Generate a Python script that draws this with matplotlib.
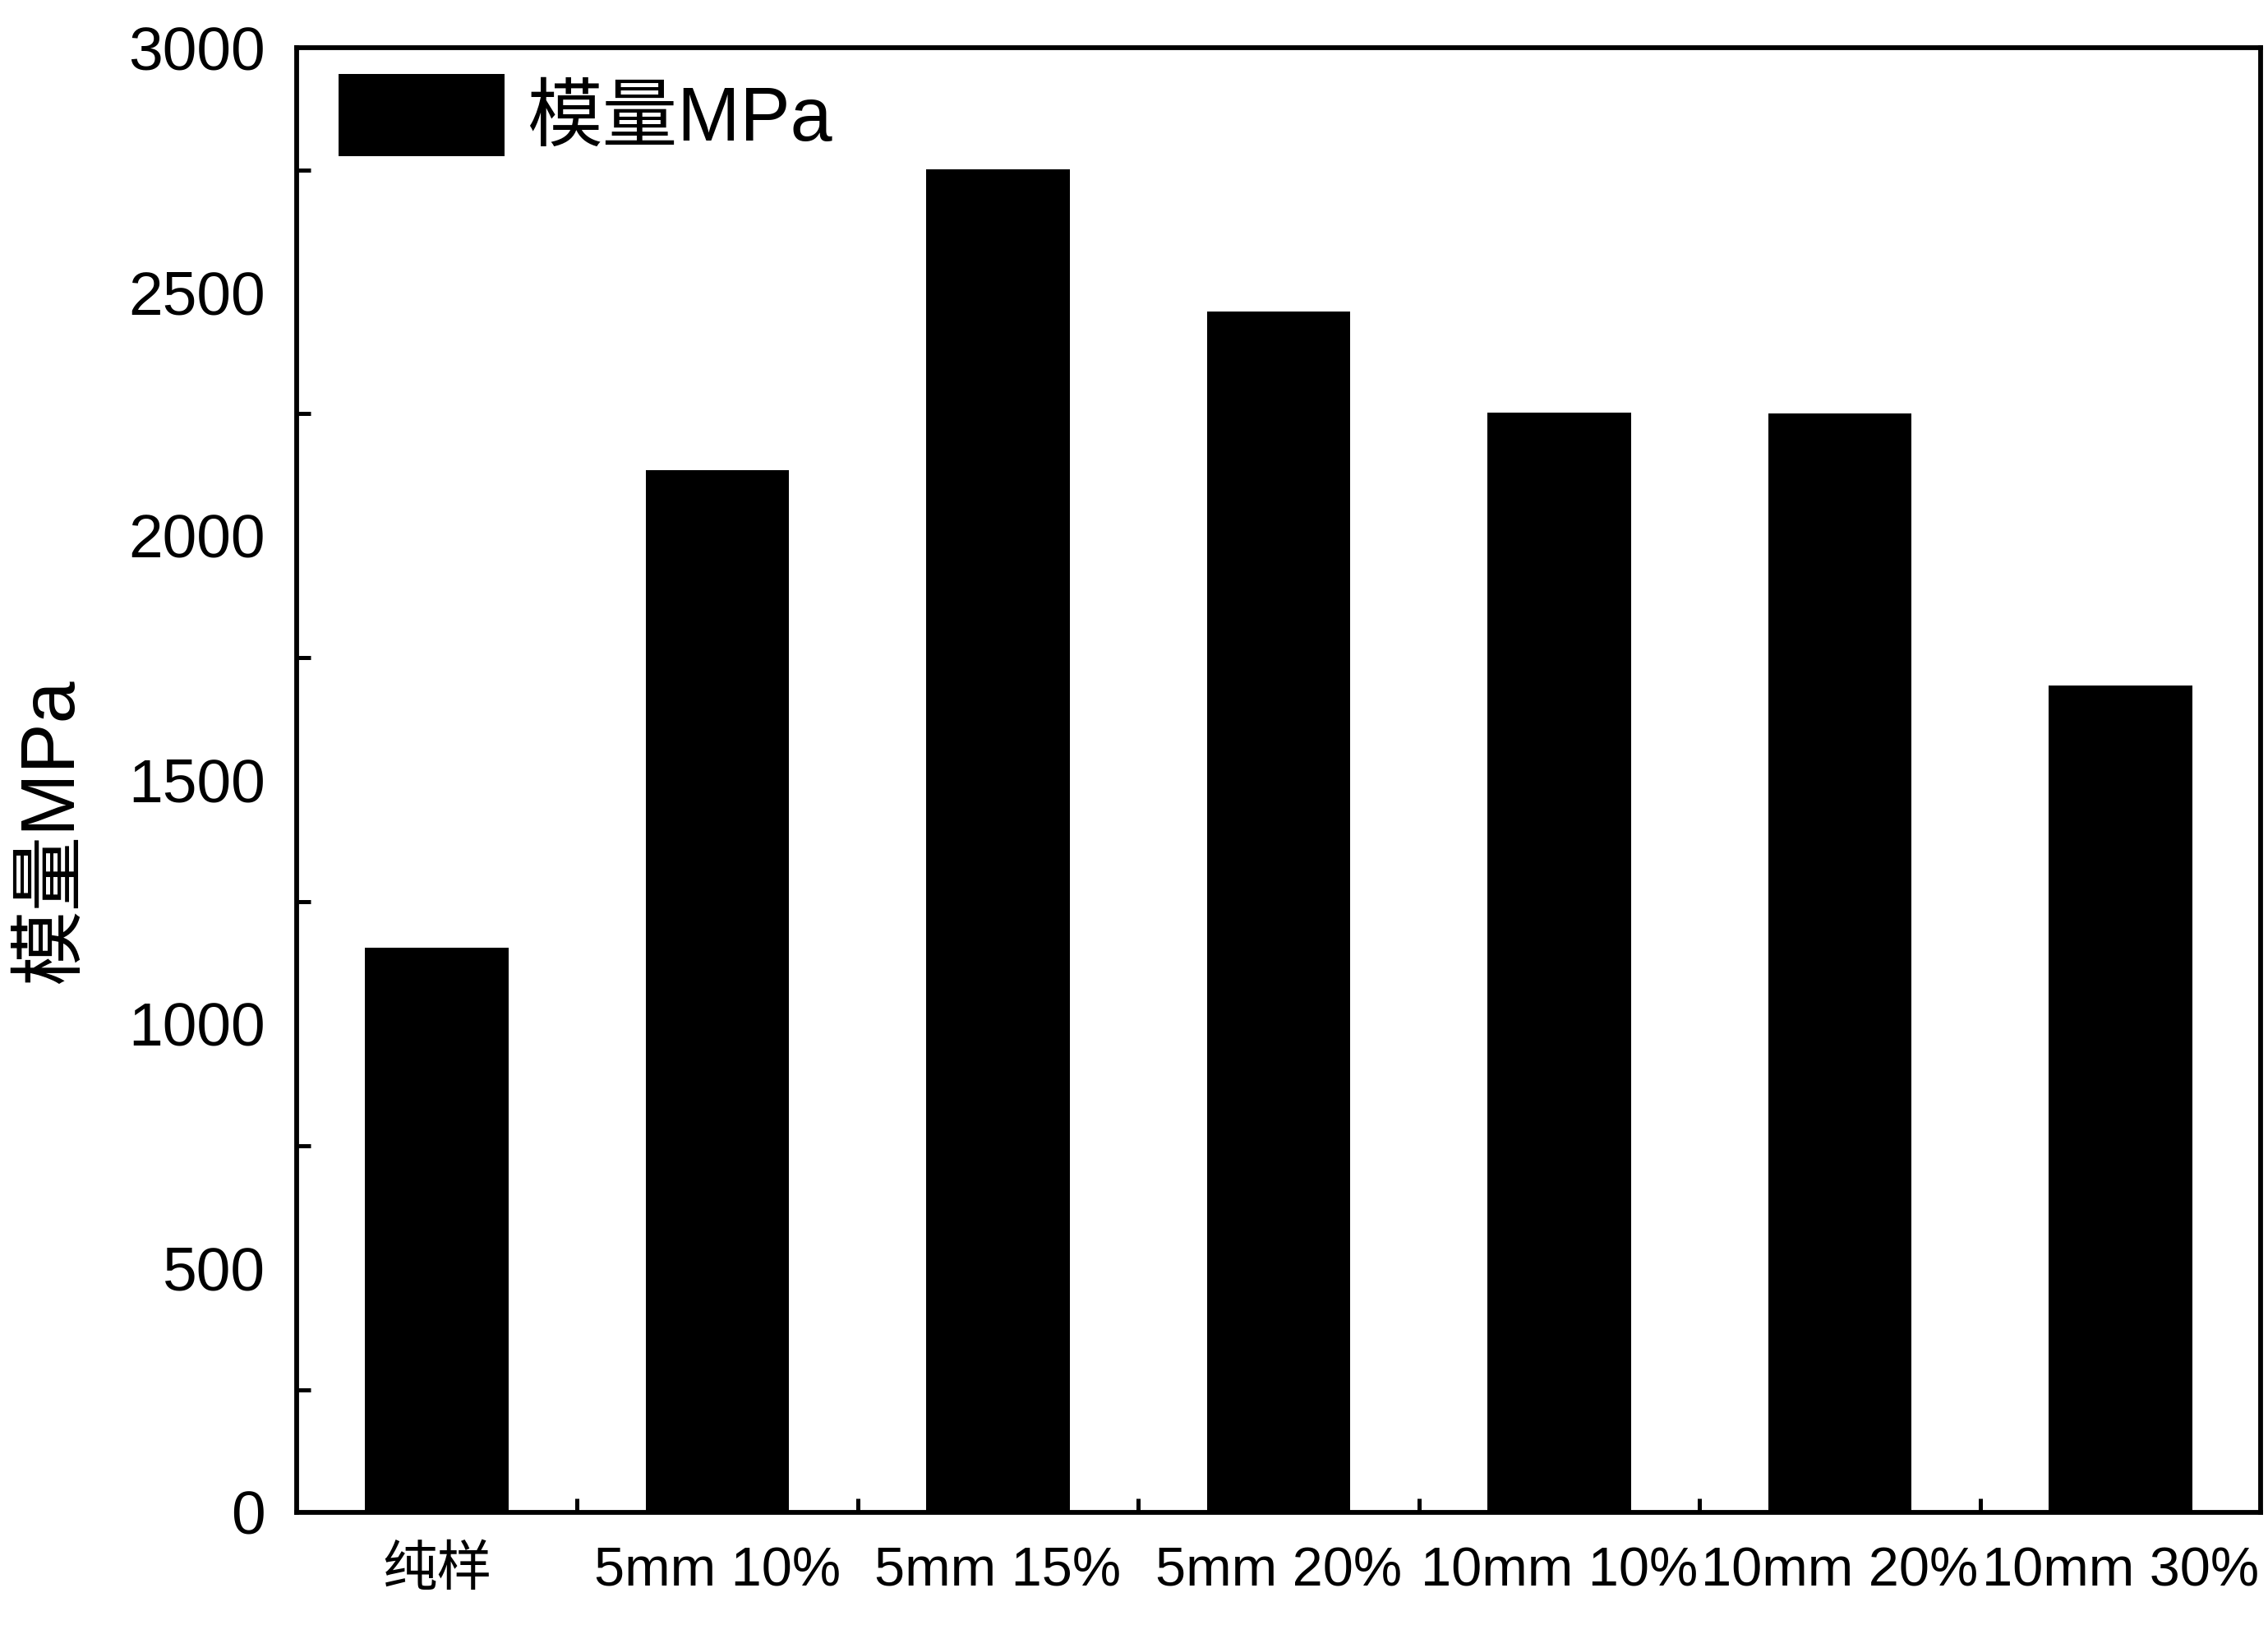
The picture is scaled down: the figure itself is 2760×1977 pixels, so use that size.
"""
Bar chart of modulus (MPa) per sample group
"""

import matplotlib

matplotlib.use("Agg")
import matplotlib.pyplot as plt
from matplotlib.ticker import MultipleLocator, FixedLocator, NullFormatter

plt.rcParams["font.family"] = ["Liberation Sans", "Noto Sans CJK SC", "DejaVu Sans"]

# data
categories = ["纯样", "5mm 10%", "5mm 15%", "5mm 20%", "10mm 10%", "10mm 20%", "10mm 30%"]
modulus = [1156, 2134, 2751, 2460, 2253, 2250, 1693]
series_name = "模量MPa"

fig = plt.figure(figsize=(9.2, 6.59), dpi=300)
ax = fig.add_axes([0.1307, 0.0695, 0.9968 - 0.1307, 0.9706 - 0.0695])

x = list(range(len(categories)))
ax.bar(x, modulus, width=0.51, color="black", label=series_name)

# axes limits
ax.set_xlim(-0.5, len(categories) - 0.5)
ax.set_ylim(0, 3000)

# ticks: major labels without marks, minor marks inward
ax.yaxis.set_major_locator(MultipleLocator(500))
ax.yaxis.set_minor_locator(FixedLocator([250, 750, 1250, 1750, 2250, 2750]))
ax.set_xticks(x)
ax.set_xticklabels(categories)
ax.xaxis.set_minor_locator(FixedLocator([i + 0.5 for i in x[:-1]]))
ax.xaxis.set_minor_formatter(NullFormatter())

ax.tick_params(axis="both", which="major", length=0)
ax.tick_params(axis="y", which="major", labelsize=18, pad=9)
ax.tick_params(axis="x", which="major", labelsize=16, pad=10)
ax.tick_params(axis="both", which="minor", direction="in", length=4, width=1.2)

for spine in ax.spines.values():
    spine.set_linewidth(1.4)

# y label
ax.set_ylabel(series_name, fontsize=22)
ax.yaxis.set_label_coords(-0.106, 0.465)

# legend
ax.legend(
    loc="upper left",
    bbox_to_anchor=(0.0214, 0.982),
    frameon=False,
    fontsize=22,
    handlelength=2.2,
    handleheight=1.3,
    handletextpad=0.3,
    borderpad=0,
    borderaxespad=0,
)

plt.savefig("out.png", dpi=300)
